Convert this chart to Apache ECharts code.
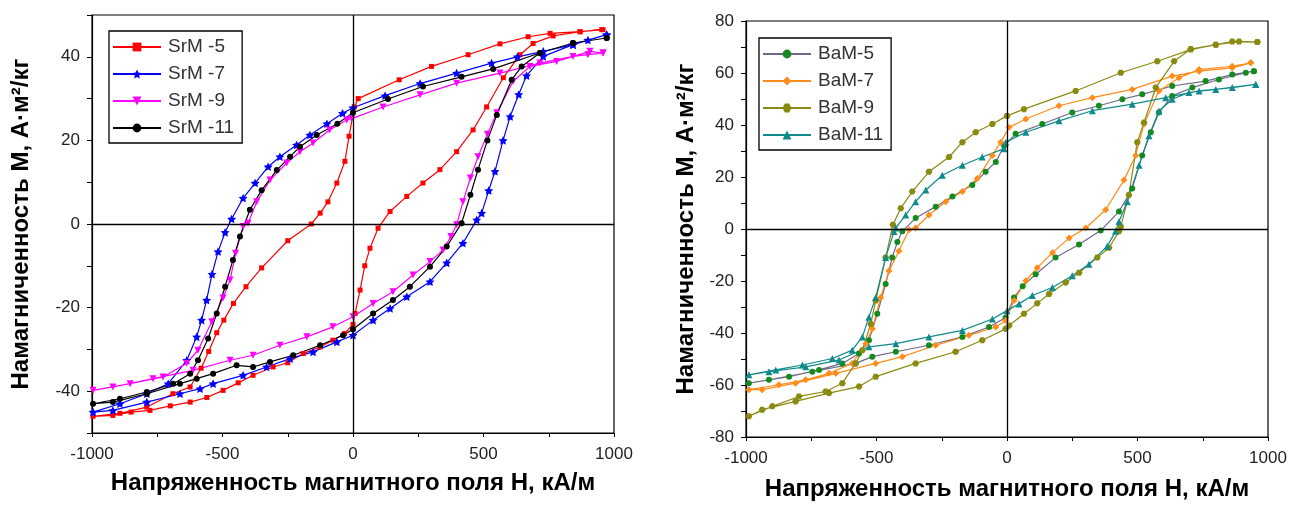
<!DOCTYPE html>
<html><head><meta charset="utf-8">
<script src="https://cdn.jsdelivr.net/npm/echarts@6/dist/echarts.min.js"></script>
<style>html,body{margin:0;padding:0;background:#fff}#c{width:1290px;height:506px}</style>
</head><body><div id="c"></div>
<script>
// ---- data: [H (kA/m), M (A·m²/kg)], descending branch then ascending branch ----
const xTicks = [-1000, -500, 0, 500, 1000];
const srmNames = ['SrM -5', 'SrM -7', 'SrM -9', 'SrM -11'];
const bamNames = ['BaM-5', 'BaM-7', 'BaM-9', 'BaM-11'];

const srm5 = [[953,46.5],[870,46],[755,45.6],[671,44.8],[563,43.1],[441,40.5],[301,37.7],[177,34.5],[20,30],[5,28],[-15,21],[-31,15],[-62,9.8],[-96,5.3],[-126,2.6],[-160,0],[-250,-4],[-350,-10.5],[-410,-15],[-458,-19],[-495,-23],[-522,-26],[-553,-30.5],[-582,-34.5],[-624,-39],[-690,-40.6],[-790,-43.8],[-893,-45.3],[-996,-46],
  [-920,-45.8],[-850,-45],[-778,-44.6],[-700,-43.5],[-624,-42.6],[-560,-41.5],[-498,-39.8],[-440,-38],[-383,-36.2],[-306,-34.2],[-250,-33.2],[-191,-31],[-126,-29.4],[-77,-27.8],[-32,-26.2],[0,-24],[8,-21.4],[27,-15.8],[45,-10],[65,-5.8],[96,-1],[142,3],[206,6.6],[268,9.8],[333,13],[397,17.3],[460,22.5],[512,28],[576,35],[640,40.5],[690,43.2],[767,45],[870,46],[958,46.5]];
const srm7 = [[972,45.3],[900,44],[843,42.9],[729,41.3],[630,40],[531,38.5],[397,36.1],[257,33.6],[123,30.7],[0,27.8],[-40,26.5],[-100,24],[-165,21.3],[-216,18.9],[-280,16.1],[-325,13.7],[-375,9.8],[-421,6.2],[-465,1.2],[-490,-2],[-517,-6.6],[-540,-12],[-561,-18.2],[-580,-23],[-599,-27],[-637,-32.6],[-708,-38.2],[-790,-40.6],[-893,-43],[-996,-45],
  [-920,-44.6],[-790,-42.6],[-663,-40.6],[-586,-39.4],[-536,-38.2],[-421,-36.2],[-331,-34.2],[-241,-32.2],[-153,-30.6],[-62,-28.2],[0,-26.6],[77,-23],[142,-20.2],[206,-17.4],[295,-13.8],[359,-9.3],[421,-4.6],[474,1],[493,2.6],[520,8],[544,12.6],[575,20],[602,25.7],[635,31],[665,35.5],[729,40.1],[843,42.9],[972,45.3]];
const srm9 = [[958,40.9],[900,40.5],[843,40.1],[716,38.5],[563,36.1],[397,33.7],[257,30.9],[115,28],[-5,25.2],[-24,24.9],[-90,22.5],[-153,19.4],[-203,17.3],[-254,14.6],[-318,10.5],[-369,5.3],[-402,0.2],[-421,-0.6],[-450,-7],[-471,-13.4],[-498,-17.7],[-541,-23.4],[-594,-30.2],[-637,-33.3],[-728,-36.6],[-854,-38.2],[-996,-39.8],
  [-920,-39],[-766,-37],[-613,-35],[-471,-32.6],[-383,-31.4],[-280,-29],[-177,-27],[-77,-24.6],[0,-22.2],[77,-19],[153,-16.2],[230,-12.2],[295,-9],[345,-6.2],[375,-3],[397,-0.2],[421,5.3],[450,11],[479,16.1],[515,21.5],[551,26.6],[613,34.1],[678,37.7],[780,38.9],[908,41.3],[958,40.9]];
const srm11 = [[972,44.5],[843,43.3],[716,40.9],[537,37.1],[416,35.2],[268,32.9],[134,29.9],[0,26.6],[-60,24],[-139,21.3],[-203,18.5],[-241,16.1],[-292,12.9],[-350,8.1],[-395,3.4],[-433,-3],[-460,-8.6],[-490,-15],[-522,-21.4],[-555,-27.4],[-594,-32.6],[-624,-35.8],[-689,-38.2],[-790,-40.2],[-893,-41.8],[-996,-43],
  [-920,-42.6],[-790,-40.6],[-663,-38.2],[-599,-37],[-536,-35.8],[-446,-33.8],[-383,-34.2],[-318,-33],[-229,-31.4],[-126,-29],[-38,-26.6],[0,-25.2],[77,-21.4],[153,-18.2],[218,-15],[295,-10.2],[359,-5.4],[416,0.2],[450,7],[479,13],[515,20],[551,26.1],[608,34.5],[646,37.7],[716,40.9],[843,43.3],[972,44.5]];

const bam5 = [[946,60.7],[863,59.4],[761,56.9],[633,55],[518,51.8],[442,49.9],[352,47.4],[250,44.8],[135,40.4],[33,36.6],[-11,32],[-43,25.8],[-82,22],[-133,16.9],[-209,12.5],[-273,8.6],[-350,4.2],[-401,-0.9],[-420,-5],[-440,-11],[-465,-21.2],[-497,-32.6],[-529,-42.8],[-567,-47.9],[-631,-51.7],[-720,-54.2],[-835,-56.8],[-989,-59.3],
  [-912,-58],[-746,-54.9],[-580,-51.7],[-516,-49.1],[-426,-47.2],[-299,-44.7],[-171,-41.5],[-69,-37.7],[-5,-34],[27,-26.3],[60,-22],[110,-17.4],[186,-11],[276,-6],[359,-0.6],[429,6.7],[480,15.6],[518,28.3],[551,37.2],[582,44.8],[633,51.2],[710,54.4],[812,57.5],[915,60.1],[946,60.7]];
const bam7 = [[934,63.9],[863,62],[736,60.7],[633,58.8],[480,53.7],[327,50.5],[199,47.4],[72,42.3],[8,39.1],[-24,33.4],[-56,28.3],[-114,19.4],[-171,14.4],[-235,10.5],[-299,5.4],[-350,0.4],[-375,-0.3],[-414,-8.5],[-452,-16.1],[-484,-26.3],[-516,-38.4],[-541,-44.1],[-593,-51.7],[-682,-55.5],[-771,-58],[-874,-59.9],[-989,-61.8],
  [-938,-61.8],[-810,-59.3],[-656,-55.5],[-503,-51.7],[-401,-49.1],[-273,-44.7],[-146,-40.9],[-43,-37.7],[-5,-35.2],[27,-27.5],[72,-19.9],[116,-14.9],[174,-9.1],[238,-3.5],[302,0.4],[378,7.4],[448,18.8],[493,28.3],[525,40.4],[582,53.1],[659,58.2],[736,61.3],[863,62.6],[934,63.9]];
const bam9 = [[959,71.9],[863,72.1],[800,70.9],[704,69],[576,64.5],[436,60.1],[263,53.1],[65,46.1],[0,43.5],[-56,40.4],[-120,37.2],[-171,33.4],[-222,27.7],[-299,22],[-363,14.4],[-407,8],[-437,1.6],[-465,-11],[-503,-27.5],[-522,-36.5],[-554,-46.6],[-580,-51.7],[-631,-59.3],[-695,-62.5],[-797,-64.4],[-899,-68.2],[-989,-72],
  [-938,-69.5],[-810,-66.3],[-682,-63.1],[-567,-60.6],[-503,-56.8],[-350,-51.7],[-197,-47.2],[-95,-42.8],[-5,-38.4],[8,-37.1],[65,-32.6],[116,-28.6],[161,-25],[225,-20.6],[276,-16.8],[346,-11],[391,-7.2],[429,-0.9],[436,1],[467,13.1],[499,33.4],[525,41],[570,54.4],[640,64.5],[704,69.2],[800,70.9],[889,72.1],[959,71.9]];
const bam11 = [[953,55.6],[863,54.4],[736,53.1],[608,50.5],[480,48],[327,45.5],[199,41.6],[72,37.2],[-5,33.4],[-11,30.9],[-95,27.7],[-171,24.5],[-248,20.7],[-311,15],[-350,10.5],[-388,5.4],[-426,0.4],[-433,-1],[-465,-11],[-503,-26.3],[-529,-33.9],[-554,-41.5],[-593,-46.6],[-669,-49.8],[-784,-52.3],[-886,-54.2],[-989,-56.1],
  [-912,-54.9],[-771,-53],[-644,-50.4],[-529,-45.3],[-426,-44.1],[-299,-41.5],[-171,-39],[-56,-34.6],[0,-31.4],[46,-28.8],[97,-25.6],[174,-22.5],[250,-18],[314,-13.6],[384,-6.6],[416,-0.9],[429,2.9],[461,10.5],[506,24.5],[544,35.9],[582,45.4],[633,49.9],[697,52.5],[800,53.7],[953,55.6]];

// ---- chart ----
const STAR = 'path://M0,-10L2.9,-4L9.5,-3.1L4.8,1.5L5.9,8.1L0,5L-5.9,8.1L-4.8,1.5L-9.5,-3.1L-2.9,-4Z';
const HEX = 'path://M-5,0L-2.5,-4.3L2.5,-4.3L5,0L2.5,4.3L-2.5,4.3Z';
const FONT = '"Liberation Sans", Arial, sans-serif';

function ser(name, data, idx, lineColor, markColor, symbol, size, rot) {
  return {
    name, type: 'line', data, xAxisIndex: idx, yAxisIndex: idx,
    symbol, symbolSize: size, symbolRotate: rot || 0, symbolKeepAspect: true,
    showSymbol: true, animation: false,
    lineStyle: { color: lineColor, width: 1.2 },
    itemStyle: { color: markColor, borderWidth: 0 },
    emphasis: { disabled: true }
  };
}
function zeroLines() {
  return {
    silent: true, symbol: 'none', animation: false,
    label: { show: false },
    lineStyle: { color: '#000', type: 'solid', width: 1.3 },
    data: [{ xAxis: 0 }, { yAxis: 0 }]
  };
}
function xAx(idx, gap) {
  return {
    gridIndex: idx, type: 'value', min: -1000, max: 1000, interval: 250,
    name: 'Напряженность магнитного поля H, кА/м', nameLocation: 'middle', nameGap: gap,
    nameTextStyle: { fontFamily: FONT, fontWeight: 'bold', fontSize: 24, color: '#000' },
    axisLine: { onZero: false, lineStyle: { color: '#000', width: 1.2 } },
    axisTick: { inside: false, length: 4, lineStyle: { color: '#000' } },
    axisLabel: { fontFamily: FONT, fontSize: 17, color: '#222', margin: 13,
      formatter: v => xTicks.includes(v) ? String(v) : '' },
    splitLine: { show: false }
  };
}
function yAx(idx, lim, gap) {
  return {
    gridIndex: idx, type: 'value', min: -lim, max: lim, interval: 10,
    name: 'Намагниченность M, А·м²/кг', nameLocation: 'middle', nameGap: gap, nameRotate: 90,
    nameTextStyle: { fontFamily: FONT, fontWeight: 'bold', fontSize: 24, color: '#000' },
    axisLine: { onZero: false, lineStyle: { color: '#000', width: 1.2 } },
    axisTick: { inside: false, length: 5, lineStyle: { color: '#000' } },
    axisLabel: { fontFamily: FONT, fontSize: 17, color: '#222', margin: 12,
      formatter: v => (v % 20 === 0) ? String(v) : '' },
    splitLine: { show: false }
  };
}
function leg(names, left, top) {
  return {
    data: names, left, top, orient: 'vertical',
    itemWidth: 48, itemHeight: 11, itemGap: 7,
    padding: [6, 8, 5, 3],
    borderColor: '#000', borderWidth: 1.3, backgroundColor: '#fff',
    textStyle: { fontFamily: FONT, fontSize: 19, color: '#333', lineHeight: 20, padding: [0, 0, 0, 2] },
    selectedMode: false
  };
}

const s = [
  ser(srmNames[0], srm5, 0, '#ff0000', '#ff0000', 'rect', 5),
  ser(srmNames[1], srm7, 0, '#0000ff', '#0000ff', STAR, 9),
  ser(srmNames[2], srm9, 0, '#ff00ff', '#ff00ff', 'triangle', 7, 180),
  ser(srmNames[3], srm11, 0, '#000000', '#000000', 'circle', 6),
  ser(bamNames[0], bam5, 1, '#6e6a86', '#138a1e', 'circle', 6),
  ser(bamNames[1], bam7, 1, '#ff8c1a', '#ff8c1a', 'diamond', 7),
  ser(bamNames[2], bam9, 1, '#8a8a12', '#8a8a12', HEX, 7),
  ser(bamNames[3], bam11, 1, '#108a8a', '#108a8a', 'triangle', 7)
];
s[0].markLine = zeroLines();
s[4].markLine = zeroLines();

const chart = echarts.init(document.getElementById('c'), null, { renderer: 'canvas' });
chart.setOption({
  backgroundColor: '#fff',
  animation: false,
  grid: [
    { left: 92, top: 15, width: 522, height: 418, show: true, borderColor: '#000', borderWidth: 1.2, containLabel: false },
    { left: 746, top: 21, width: 522, height: 419, show: true, borderColor: '#000', borderWidth: 1.2, containLabel: false }
  ],
  xAxis: [xAx(0, 38), xAx(1, 40)],
  yAxis: [yAx(0, 50, 59), yAx(1, 80, 48)],
  legend: [leg(srmNames, 109, 31), leg(bamNames, 759, 38)],
  series: s
});
</script></body></html>
